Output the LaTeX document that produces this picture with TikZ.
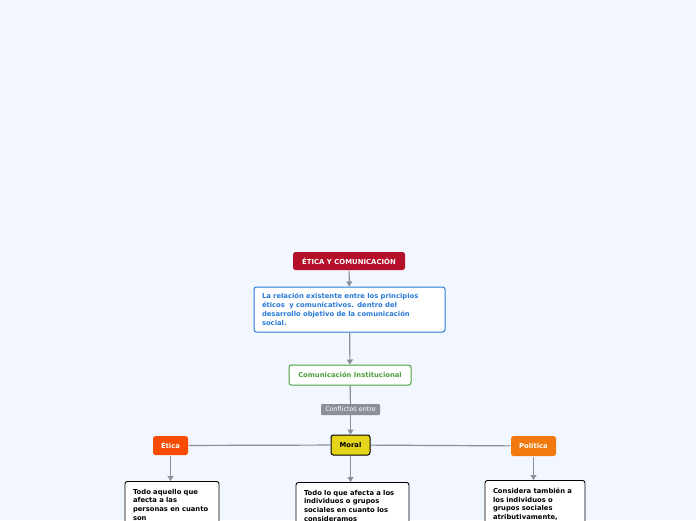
\documentclass[tikz,border=0pt]{standalone}
\usepackage{fontspec}
\setmainfont{DejaVu Sans}
\usetikzlibrary{arrows.meta}
\definecolor{fondo}{RGB}{242,246,254}
\definecolor{rojo}{RGB}{181,16,42}
\definecolor{azul}{RGB}{40,122,216}
\definecolor{verde}{RGB}{76,160,60}
\definecolor{gris}{RGB}{138,143,153}
\definecolor{amarillo}{RGB}{229,212,26}
\definecolor{naranja}{RGB}{250,76,0}
\definecolor{naranjab}{RGB}{240,122,16}
\begin{document}
\begin{tikzpicture}[x=1pt,y=-1pt, line join=round, >={Triangle[length=5pt,width=6pt]},
	caja/.style={rounded corners=2.5pt, line width=1pt, font=\fontsize{6.8}{8.8}\selectfont\bfseries, inner sep=0pt, align=center},
	tema/.style={caja, draw=none, text=white},
	nota/.style={caja, fill=white, draw=black, line width=0.9pt, anchor=north, align=left, text width=#1, inner xsep=8pt, inner ysep=7.5pt},
	enlace/.style={draw=gris, line width=1.2pt}]
	\fill[fondo](0,0)rectangle(696,520);
	\useasboundingbox(0,0)rectangle(696,520);
	\clip(0,0)rectangle(696,520);
	% nodos
	\node[tema, fill=rojo, minimum width=112pt, minimum height=18pt, font=\fontsize{6.9}{8.8}\selectfont\bfseries] (titulo) at (349,261) {ÉTICA Y COMUNICACIÓN};
	\node[caja, fill=white, draw=azul, text=azul, align=left, minimum width=191pt, minimum height=45pt, text width=175pt] (relacion) at (349.5,309.5) {La relación existente entre los principios\\éticos\ \ y comunicativos. dentro del\\desarrollo objetivo de la comunicación\\social.};
	\node[caja, fill=white, draw=verde, text=verde, minimum width=122pt, minimum height=20pt] (institucional) at (350,375) {Comunicación Institucional};
	\node[fill=gris, text=white, font=\fontsize{6.4}{7}\selectfont, inner sep=0pt, minimum width=59pt, minimum height=11pt, rounded corners=1pt] (conflictos) at (350.5,409.5) {Conflictos entre};
	\node[caja, fill=amarillo, draw=black, minimum width=39pt, minimum height=20pt] (moral) at (350.5,445) {Moral};
	\node[tema, fill=naranja, minimum width=35pt, minimum height=19pt] (etica) at (170.5,445.5) {Ética};
	\node[tema, fill=naranjab, minimum width=45pt, minimum height=20pt] (politica) at (533.5,446) {Política};
	\node[nota=78pt] (notaetica) at (172,481) {Todo aquello que\\afecta a las\\personas en cuanto\\son};
	\node[nota=97pt] (notamoral) at (352.5,482) {Todo lo que afecta a los\\individuos o grupos\\sociales en cuanto los\\consideramos};
	\node[nota=84pt] (notapolitica) at (535,480) {Considera también a\\los individuos o\\grupos sociales\\atributivamente,};
	% conectores
	\draw[enlace,->](titulo)--(relacion);
	\draw[enlace,->](relacion)--(institucional);
	\draw[enlace](institucional)--(conflictos);
	\draw[enlace,->](conflictos)--(moral);
	\draw[enlace](moral)--(etica);
	\draw[enlace](moral)--(politica);
	\draw[enlace,->](etica)--(etica|-notaetica.north);
	\draw[enlace,->](moral)--(moral|-notamoral.north);
	\draw[enlace,->](politica)--(politica|-notapolitica.north);
\end{tikzpicture}
\end{document}
